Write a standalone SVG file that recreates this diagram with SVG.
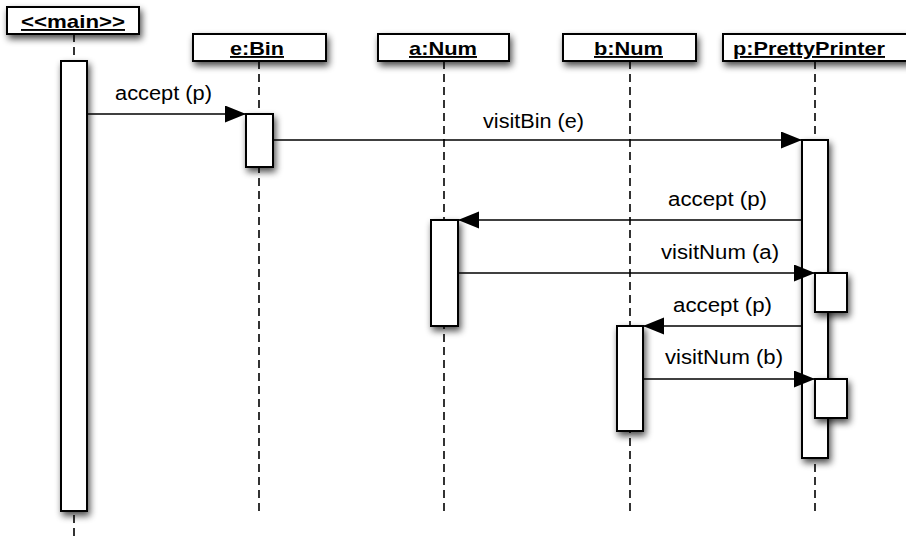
<svg xmlns="http://www.w3.org/2000/svg" width="906" height="536" viewBox="0 0 906 536">
<defs>
<filter id="sh" x="-50%" y="-50%" width="200%" height="200%">
<feGaussianBlur in="SourceAlpha" stdDeviation="3.5"/>
<feOffset dx="2" dy="4" result="b"/>
<feComponentTransfer><feFuncA type="linear" slope="0.7"/></feComponentTransfer>
<feMerge><feMergeNode/><feMergeNode in="SourceGraphic"/></feMerge>
</filter>
<marker id="ah" markerUnits="userSpaceOnUse" markerWidth="24" markerHeight="18" refX="21" refY="8.5" orient="auto">
<path d="M0,0 L21,8.5 L0,17 z" fill="#000"/>
</marker>
</defs>
<style>
.box{fill:#fff;stroke:#000;stroke-width:2;filter:url(#sh)}
.life{stroke:#000;stroke-width:1.6;stroke-dasharray:8 5;fill:none}
.hdr{font-family:"Liberation Sans",Arial,sans-serif;font-weight:bold;font-size:19px;text-decoration:underline;fill:#000}
.lbl{font-family:"Liberation Sans",Arial,sans-serif;font-size:20px;fill:#000}
.msg{stroke:#000;stroke-width:1.6;fill:none;marker-end:url(#ah)}
</style>
<rect width="906" height="536" fill="#fff"/>
<g id="lifelines">
<line class="life" x1="74" y1="34" x2="74" y2="536"/>
<line class="life" x1="259" y1="61" x2="259" y2="512"/>
<line class="life" x1="444" y1="61" x2="444" y2="512"/>
<line class="life" x1="630" y1="61" x2="630" y2="512"/>
<line class="life" x1="815" y1="61" x2="815" y2="512"/>
</g>
<g id="main">
<rect class="box" x="7" y="7" width="132" height="27"/>
<text class="hdr" x="21" y="28" textLength="104" lengthAdjust="spacingAndGlyphs">&lt;&lt;main&gt;&gt;</text>
<rect class="box" x="61" y="61" width="26" height="450"/>
</g>
<g id="eBin">
<rect class="box" x="193" y="34" width="133" height="27"/>
<text class="hdr" x="230" y="55" textLength="54" lengthAdjust="spacingAndGlyphs">e:Bin</text>
<rect class="box" x="246" y="114" width="27" height="53"/>
</g>
<g id="aNum">
<rect class="box" x="378" y="34" width="131" height="27"/>
<text class="hdr" x="409" y="55" textLength="68" lengthAdjust="spacingAndGlyphs">a:Num</text>
<rect class="box" x="431" y="220" width="27" height="106"/>
</g>
<g id="bNum">
<rect class="box" x="563" y="34" width="133" height="27"/>
<text class="hdr" x="594" y="55" textLength="69" lengthAdjust="spacingAndGlyphs">b:Num</text>
<rect class="box" x="617" y="326" width="26" height="105"/>
</g>
<g id="pPrettyPrinter">
<rect class="box" x="723" y="34" width="190" height="27"/>
<text class="hdr" x="733" y="55" textLength="152" lengthAdjust="spacingAndGlyphs">p:PrettyPrinter</text>
<rect class="box" x="802" y="140" width="26" height="318"/>
<rect class="box" x="815" y="273" width="32" height="39"/>
<rect class="box" x="815" y="379" width="32" height="39"/>
</g>
<g id="connectors">
<line class="msg" x1="87" y1="114" x2="246" y2="114"/>
<text class="lbl" x="115" y="100" textLength="97" lengthAdjust="spacingAndGlyphs">accept (p)</text>
<line class="msg" x1="273" y1="140" x2="802" y2="140"/>
<text class="lbl" x="483" y="128" textLength="101" lengthAdjust="spacingAndGlyphs">visitBin (e)</text>
<line class="msg" x1="802" y1="220" x2="458" y2="220"/>
<text class="lbl" x="668" y="206" textLength="99" lengthAdjust="spacingAndGlyphs">accept (p)</text>
<line class="msg" x1="458" y1="273" x2="815" y2="273"/>
<text class="lbl" x="661" y="259" textLength="118" lengthAdjust="spacingAndGlyphs">visitNum (a)</text>
<line class="msg" x1="802" y1="326" x2="643" y2="326"/>
<text class="lbl" x="673" y="312" textLength="99" lengthAdjust="spacingAndGlyphs">accept (p)</text>
<line class="msg" x1="643" y1="379" x2="815" y2="379"/>
<text class="lbl" x="665" y="364" textLength="118" lengthAdjust="spacingAndGlyphs">visitNum (b)</text>
</g>
</svg>
